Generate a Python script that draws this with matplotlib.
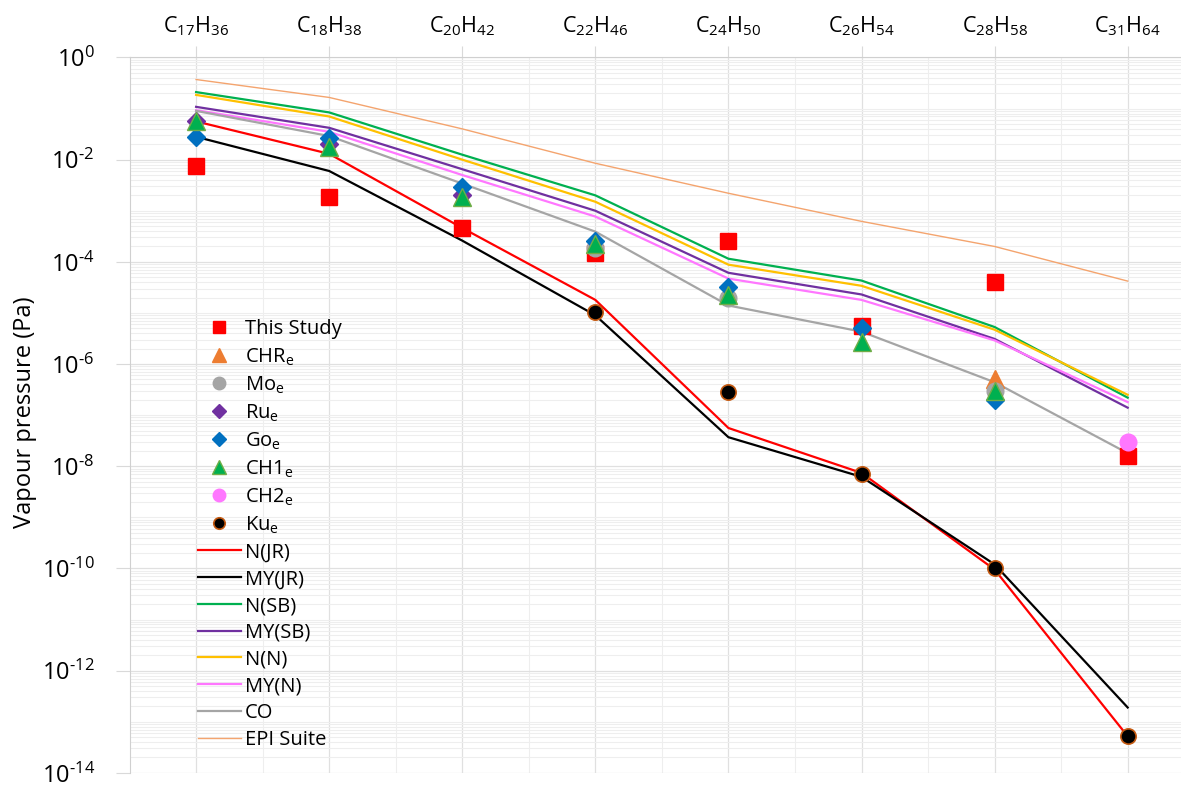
import numpy as np
import matplotlib.pyplot as plt
from matplotlib.ticker import LogLocator, NullFormatter, FixedLocator, FuncFormatter

plt.rcParams['font.family'] = ['Open Sans', 'DejaVu Sans']
plt.rcParams['mathtext.default'] = 'regular'

alkanes = [r'C$_{17}$H$_{36}$', r'C$_{18}$H$_{38}$', r'C$_{20}$H$_{42}$', r'C$_{22}$H$_{46}$',
           r'C$_{24}$H$_{50}$', r'C$_{26}$H$_{54}$', r'C$_{28}$H$_{58}$', r'C$_{31}$H$_{64}$']
nan = np.nan

# measured / literature vapour pressures (Pa)
this_study = [7.5e-3, 1.9e-3, 4.5e-4, 1.5e-4, 2.6e-4, 5.6e-6, 4.0e-5, 1.6e-8]
chr_e = [nan, nan, nan, nan, nan, nan, 5.0e-7, nan]
mo_e = [nan, nan, nan, 1.9e-4, 2.0e-5, nan, 3.0e-7, nan]
ru_e = [5.8e-2, 2.0e-2, 2.0e-3, nan, nan, nan, nan, nan]
go_e = [2.8e-2, 2.7e-2, 2.9e-3, 2.6e-4, 3.2e-5, 5.0e-6, 2.0e-7, nan]
ch1_e = [5.6e-2, 1.8e-2, 1.9e-3, 2.2e-4, 2.2e-5, 2.7e-6, 3.0e-7, nan]
ch2_e = [nan, nan, nan, nan, nan, nan, nan, 3.0e-8]
ku_e = [nan, nan, nan, 1.05e-5, 2.8e-7, 7.0e-9, 1.0e-10, 5.2e-14]

# model predictions (Pa)
n_jr = [5.6e-2, 1.3e-2, 4.6e-4, 1.8e-5, 5.6e-8, 7.4e-9, 9.5e-11, 5.2e-14]
my_jr = [2.8e-2, 6.0e-3, 2.6e-4, 9.0e-6, 3.7e-8, 6.2e-9, 1.2e-10, 1.9e-13]
n_sb = [2.1e-1, 8.4e-2, 1.25e-2, 2.0e-3, 1.15e-4, 4.3e-5, 5.3e-6, 2.2e-7]
my_sb = [1.08e-1, 4.2e-2, 6.5e-3, 1.0e-3, 6.1e-5, 2.3e-5, 3.1e-6, 1.4e-7]
n_n = [1.85e-1, 7.0e-2, 1.0e-2, 1.5e-3, 8.8e-5, 3.4e-5, 4.7e-6, 2.5e-7]
my_n = [9.3e-2, 3.5e-2, 5.0e-3, 7.7e-4, 4.7e-5, 1.8e-5, 2.9e-6, 1.8e-7]
co = [9.0e-2, 2.9e-2, 3.4e-3, 3.9e-4, 1.4e-5, 4.3e-6, 4.4e-7, 1.8e-8]
epi = [3.7e-1, 1.65e-1, 4.0e-2, 8.5e-3, 2.2e-3, 6.2e-4, 2.0e-4, 4.2e-5]

x = np.arange(len(alkanes))

fig = plt.figure(figsize=(11.81, 7.87), dpi=100)
ax = fig.add_axes([0.1097, 0.018, 0.9015, 0.909])

line_kw = dict(lw=1.6, zorder=2)
ax.plot(x, n_jr, color='#FF0000', label='N(JR)', **line_kw)
ax.plot(x, my_jr, color='#000000', label='MY(JR)', **line_kw)
ax.plot(x, n_sb, color='#00B050', label='N(SB)', **line_kw)
ax.plot(x, my_sb, color='#7030A0', label='MY(SB)', **line_kw)
ax.plot(x, n_n, color='#FFC000', label='N(N)', **line_kw)
ax.plot(x, my_n, color='#FF77FF', label='MY(N)', **line_kw)
ax.plot(x, co, color='#A5A5A5', label='CO', **line_kw)
ax.plot(x, epi, color='#F4A46E', lw=1.0, label='EPI Suite', zorder=2)

mk = dict(ls='none', zorder=3)
ax.plot(x, this_study, marker='s', ms=12, color='#FF0000', mec='#FF0000', label='This Study', **mk)
ax.plot(x, chr_e, marker='^', ms=13, color='#ED7D31', mec='#ED7D31', label='CHR$_e$', **mk)
ax.plot(x, mo_e, marker='o', ms=12, color='#A5A5A5', mec='#A5A5A5', label='Mo$_e$', **mk)
ax.plot(x, ru_e, marker='D', ms=9, color='#7030A0', mec='#7030A0', label='Ru$_e$', **mk)
ax.plot(x, go_e, marker='D', ms=9, color='#0070C0', mec='#0070C0', label='Go$_e$', **mk)
ax.plot(x, ch1_e, marker='^', ms=13, color='#00B050', mec='#70AD47', label='CH1$_e$', **mk)
ax.plot(x, ch2_e, marker='o', ms=12, color='#FF77FF', mec='#FF77FF', label='CH2$_e$', **mk)
ax.plot(x, ku_e, marker='o', ms=11, color='#000000', mec='#C55A11', mew=1.2, label='Ku$_e$', **mk)

ax.set_yscale('log')
ax.set_ylim(1e-14, 1e0)
ax.set_xlim(-0.5, 7.5)


def decade_label(v, pos):
    k = int(round(np.log10(v)))
    sign = '\u2010' if k < 0 else ''
    return '10$^{%s%d}$' % (sign, abs(k))


ax.yaxis.set_major_locator(FixedLocator([10.0 ** k for k in range(0, -15, -2)]))
ax.yaxis.set_major_formatter(FuncFormatter(decade_label))
ax.yaxis.set_minor_locator(LogLocator(base=10, subs=np.arange(1, 10), numticks=40))
ax.yaxis.set_minor_formatter(NullFormatter())
ax.xaxis.set_major_locator(FixedLocator(x))
ax.xaxis.set_minor_locator(FixedLocator(x[:-1] + 0.5))
ax.xaxis.tick_top()
ax.set_xticklabels(alkanes, fontsize=15.5)
ax.tick_params(axis='x', which='major', direction='out', length=8, color='#D9D9D9', pad=6)
ax.tick_params(axis='x', which='minor', length=0)
ax.tick_params(axis='y', which='major', direction='out', length=10, color='#D9D9D9',
               labelsize=17, pad=15)
ax.tick_params(axis='y', which='minor', length=0)

ax.grid(True, which='major', color='#E0E0E0', lw=0.9, zorder=0)
ax.grid(True, which='minor', color='#EEEEEE', lw=0.8, zorder=0)
ax.set_axisbelow(True)
for side in ['right', 'bottom']:
    ax.spines[side].set_visible(False)
ax.spines['left'].set_color('#D0D0D0')
ax.spines['top'].set_color('#D0D0D0')

ax.set_ylabel('Vapour pressure (Pa)', fontsize=17)
ax.yaxis.set_label_coords(37 / 1181, 1 - 412 / 787, transform=fig.transFigure)

handles, labels = ax.get_legend_handles_labels()
order = labels[8:] + labels[:8]
hmap = dict(zip(labels, handles))
ax.legend([hmap[l] for l in order], order, loc='upper left', bbox_to_anchor=(0.057, 0.645),
          frameon=False, fontsize=14.5, handlelength=2.1, handletextpad=0.2,
          labelspacing=0.335, borderaxespad=0, markerscale=0.75)

fig.savefig('out.png', dpi=100)
